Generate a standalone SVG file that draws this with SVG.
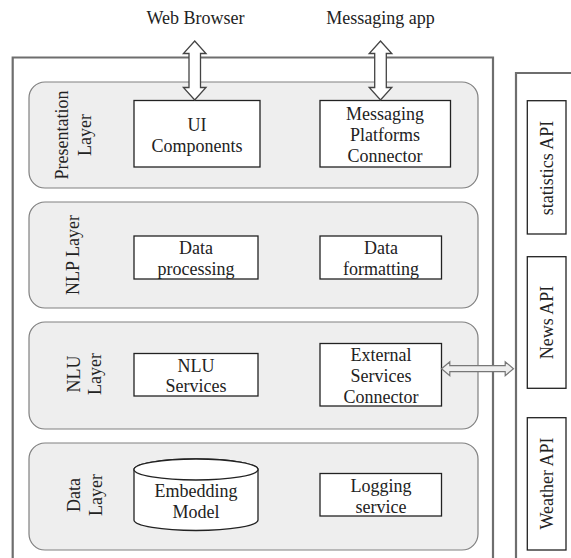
<svg xmlns="http://www.w3.org/2000/svg" width="571" height="558" viewBox="0 0 571 558">
<style>
text{font-family:"Liberation Serif","Times New Roman",serif;font-size:18px;fill:#222;text-anchor:middle}
.frame{fill:none;stroke:#6e6e6e;stroke-width:2.2}
.layer{fill:#eeeeee;stroke:#808080;stroke-width:1.2}
.box{fill:#fff;stroke:#222;stroke-width:1.3}
.varrow{fill:#fff;stroke:#444;stroke-width:1.3;stroke-linejoin:miter}
.harrow{fill:#eeeeee;stroke:#777;stroke-width:1.2}
</style>
<rect width="571" height="558" fill="#fff"/>

<g id="outer-frame">
<path class="frame" d="M12.7,560 L12.7,57.5 L493,57.5 L493,560"/>
</g>
<g id="api-frame">
<path class="frame" d="M516,560 L516,73 L575,73"/>
</g>

<g id="web-browser"><text x="195.5" y="24">Web Browser</text></g>
<g id="messaging-app"><text x="380.5" y="24">Messaging app</text></g>

<g id="presentation-layer">
<rect class="layer" x="29" y="82" width="449" height="106" rx="16"/>
<text transform="translate(67.5,135) rotate(-90)">Presentation</text>
<text transform="translate(90.5,135) rotate(-90)">Layer</text>
</g>
<g id="nlp-layer">
<rect class="layer" x="29" y="202" width="449" height="106" rx="16"/>
<text transform="translate(79,255) rotate(-90)">NLP Layer</text>
</g>
<g id="nlu-layer">
<rect class="layer" x="29" y="322" width="449" height="107" rx="16"/>
<text transform="translate(79.5,374) rotate(-90)">NLU</text>
<text transform="translate(100.5,374) rotate(-90)">Layer</text>
</g>
<g id="data-layer">
<rect class="layer" x="29" y="443" width="449" height="107" rx="16"/>
<text transform="translate(80,495) rotate(-90)">Data</text>
<text transform="translate(102,495) rotate(-90)">Layer</text>
</g>

<g id="ui-components">
<rect class="box" x="134" y="100.5" width="126" height="66.5"/>
<text x="197" y="131">UI</text>
<text x="197" y="152">Components</text>
</g>
<g id="messaging-platforms-connector">
<rect class="box" x="320" y="100.5" width="130.5" height="66.5"/>
<text x="385" y="120">Messaging</text>
<text x="385" y="141">Platforms</text>
<text x="385" y="162">Connector</text>
</g>
<g id="data-processing">
<rect class="box" x="134" y="236" width="124" height="43"/>
<text x="196" y="254">Data</text>
<text x="196" y="275">processing</text>
</g>
<g id="data-formatting">
<rect class="box" x="320" y="236" width="121.5" height="43"/>
<text x="381" y="254">Data</text>
<text x="381" y="275">formatting</text>
</g>
<g id="nlu-services">
<rect class="box" x="134" y="353.5" width="124" height="42.5"/>
<text x="196" y="371.5">NLU</text>
<text x="196" y="392">Services</text>
</g>
<g id="external-services-connector">
<rect class="box" x="320" y="343.5" width="121.5" height="62.5"/>
<text x="381" y="360.5">External</text>
<text x="381" y="381.5">Services</text>
<text x="381" y="402.5">Connector</text>
</g>
<g id="embedding-model">
<path class="box" d="M134,469.5 L134,520 A62,10.5 0 0 0 258,520 L258,469.5 A62,10.5 0 0 0 134,469.5 Z"/>
<ellipse class="box" cx="196" cy="469.5" rx="62" ry="10.5"/>
<text x="196" y="497">Embedding</text>
<text x="196" y="517.5">Model</text>
</g>
<g id="logging-service">
<rect class="box" x="320" y="473.5" width="121.5" height="42.5"/>
<text x="381" y="492">Logging</text>
<text x="381" y="512.5">service</text>
</g>

<g id="statistics-api">
<rect class="box" x="527.3" y="100.7" width="38.7" height="133.3"/>
<text transform="translate(552.5,168) rotate(-90)">statistics API</text>
</g>
<g id="news-api">
<rect class="box" x="527.3" y="256.7" width="38.7" height="131.6"/>
<text transform="translate(552.5,322.5) rotate(-90)">News API</text>
</g>
<g id="weather-api">
<rect class="box" x="527.3" y="417.7" width="38.7" height="132.3"/>
<text transform="translate(552.5,483.5) rotate(-90)">Weather API</text>
</g>

<g id="connectors">
<polygon class="varrow" points="194.7,41 206,53.5 200.5,53.5 200.5,87.5 206,87.5 194.7,100 183.4,87.5 189,87.5 189,53.5 183.4,53.5"/>
<polygon class="varrow" points="380.5,41 391.8,53.5 386.3,53.5 386.3,87.5 391.8,87.5 380.5,100 369.2,87.5 374.7,87.5 374.7,53.5 369.2,53.5"/>
<polygon class="harrow" points="441.5,368.7 449.8,361.7 449.8,365.7 505.2,365.7 505.2,361.7 513.5,368.7 505.2,375.7 505.2,371.7 449.8,371.7 449.8,375.7"/>
</g>
</svg>
